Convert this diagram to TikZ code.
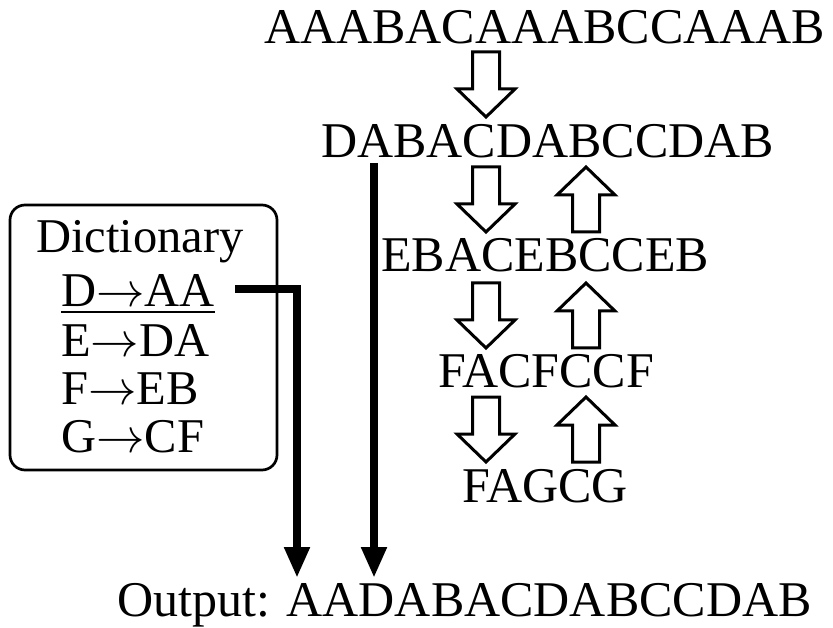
\RequirePackage{fix-cm}
\documentclass[tikz,border=0pt]{standalone}
\usepackage{fontspec}
\setmainfont{Liberation Serif}
\usetikzlibrary{arrows.meta}
\tikzset{
  txt/.style={inner sep=0pt, anchor=base west, font=\fontsize{50}{60}\selectfont},
  dtxt/.style={inner sep=0pt, anchor=base west, font=\fontsize{48.5}{58}\selectfont},
  hollow/.style={draw=black, fill=white, line width=3pt, line join=miter},
  thickarrow/.style={line width=8pt, line join=miter, -{Triangle[length=31pt,width=24pt]}},
  dictbox/.style={draw, line width=2.7pt, rounded corners=15pt, minimum width=267pt, minimum height=265pt, inner sep=0pt},
  pics/downarrow/.style={code={\draw[hollow] (-13.5,0) -- (13.5,0) -- (13.5,37) -- (29,37) -- (0,65) -- (-29,37) -- (-13.5,37) -- cycle;}},
  pics/uparrow/.style={code={\draw[hollow] (0,0) -- (29,28) -- (13.5,28) -- (13.5,65) -- (-13.5,65) -- (-13.5,28) -- (-29,28) -- cycle;}},
}
\begin{document}
\begin{tikzpicture}[x=1pt,y=-1pt]
\useasboundingbox (0,0) rectangle (833,628);
% reduction lines
\node[txt] (l1) at (264,44) {AAABACAAABCCAAAB};
\node[txt] (l2) at (321,158) {DABACDABCCDAB};
\node[txt] (l3) at (381,272) {EBACEBCCEB};
\node[txt] (l4) at (438,388) {FACFCCF};
\node[txt] (l5) at (462,502) {FAGCG};
\node[txt] (out) at (117,616) {Output: AADABACDABCCDAB};
% hollow arrows
\pic at (486,52) {downarrow};
\pic at (486,167) {downarrow};
\pic at (586,167) {uparrow};
\pic at (486,283) {downarrow};
\pic at (586,283) {uparrow};
\pic at (486,397) {downarrow};
\pic at (586,397) {uparrow};
% dictionary
\node[dictbox] (dict) at (143.5,337.5) {};
\node[dtxt] (dh) at (36,253) {Dictionary};
\node[dtxt] (dD) at (61,307) {D$\rightarrow$AA};
\node[dtxt] (dE) at (61,356) {E$\rightarrow$DA};
\node[dtxt] (dF) at (61,404) {F$\rightarrow$EB};
\node[dtxt] (dG) at (61,452) {G$\rightarrow$CF};
\draw[line width=2.5pt] ([yshift=-5pt]dD.base west) -- ([yshift=-5pt]dD.base east);
% connectors
\coordinate (dstart) at (235,289);
\coordinate (outA) at (297,578);
\coordinate (l2A) at (374,163);
\coordinate (outD) at (374,578);
\draw[thickarrow] (dstart) -| (outA);
\draw[thickarrow] (l2A) -- (outD);
\end{tikzpicture}
\end{document}
